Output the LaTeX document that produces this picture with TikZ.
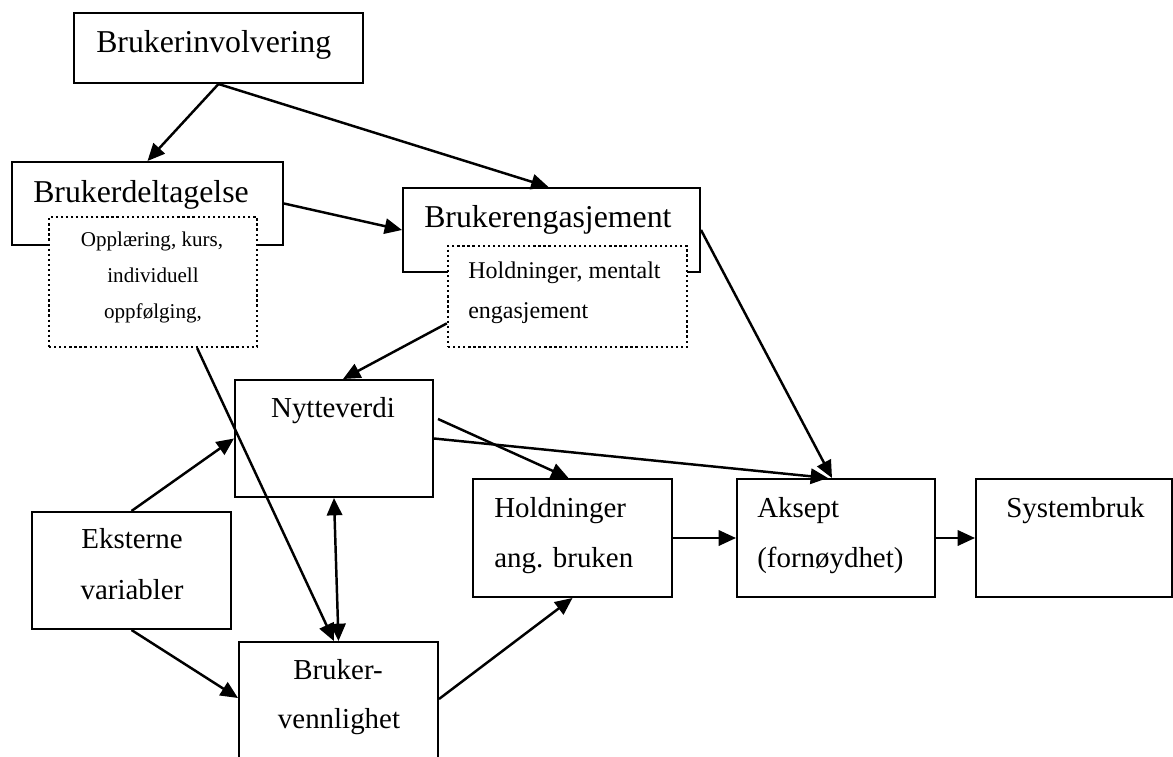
\documentclass[tikz,border=0pt]{standalone}
\usepackage{fontspec}
\setmainfont{Liberation Serif}
\usetikzlibrary{arrows.meta,calc,fit}

\begin{document}
\begin{tikzpicture}[x=0.75pt,y=-0.75pt,
  box/.style={draw, line width=1.5pt, inner sep=0pt},
  subbox/.style={draw, fill=white, line width=1.7pt, dash pattern=on 1.7pt off 2.1pt, inner sep=0pt},
  tip/.tip={Triangle[length=13pt,width=11.5pt]},
  arr/.style={line width=1.85pt, -tip},
  dbl/.style={line width=1.85pt, tip-tip},
  big/.style={inner sep=0pt, font=\fontsize{23.85}{28}\selectfont},
  mid/.style={inner sep=0pt, font=\fontsize{21.7}{26}\selectfont},
  small/.style={inner sep=0pt, font=\fontsize{15.8}{19}\selectfont},
  note/.style={inner sep=0pt, font=\fontsize{18}{22}\selectfont},
]
\useasboundingbox (0,0) rectangle (1173,756);

% main boxes
\node[box, fit={(74,13) (363,83)}]    (inv)   {};
\node[box, fit={(12,162) (283,245)}]  (del)   {};
\node[box, fit={(403,188) (700,272)}] (eng)   {};
\node[box, fit={(235,380) (433,497)}] (nytte) {};
\node[box, fit={(32,512) (231,629)}]  (ekst)  {};
\node[box, fit={(239,642) (438,760)}] (venn)  {};
\node[box, fit={(473,479) (672,597)}] (hold)  {};
\node[box, fit={(737,479) (935,597)}] (aks)   {};
\node[box, fit={(976,479) (1172,597)}] (sys)  {};

% dotted sub-boxes laid over the lower edge of their parent boxes
\node[subbox, fit={(49,217) (257,347)}]  (delsub) {};
\node[subbox, fit={(448,246) (687,347)}] (engsub) {};

% labels
\node[big, anchor=base west] (invt) at (96,53) {Brukerinvolvering};
\node[big, anchor=base west] (delt) at (33,202) {Brukerdeltagelse};
\node[big, anchor=base west] (engt) at (424,227) {Brukerengasjement};

\node[small, anchor=base] (delsub1) at (152,246) {Opplæring, kurs,};
\node[small, anchor=base] (delsub2) at (153,282) {individuell};
\node[small, anchor=base] (delsub3) at (153,318) {oppfølging,};

\node[note, anchor=base west] (engsub1) at (468,278) {Holdninger, mentalt};
\node[note, anchor=base west] (engsub2) at (468,318) {engasjement};

\node[mid, anchor=base] (nyttet) at (333,417) {Nytteverdi};
\node[mid, anchor=base] (ekst1) at (132,548) {Eksterne};
\node[mid, anchor=base] (ekst2) at (132,599) {variabler};
\node[mid, anchor=base] (venn1) at (338,679) {Bruker-};
\node[mid, anchor=base] (venn2) at (339,728) {vennlighet};
\node[mid, anchor=base west] (hold1) at (494,517) {Holdninger};
\node[mid, anchor=base west] (hold2) at (494,567) {ang. bruken};
\node[mid, anchor=base west] (aks1) at (757,517) {Aksept};
\node[mid, anchor=base west] (aks2) at (757,567) {(fornøydhet)};
\node[mid, anchor=base west] (syst) at (1006,517) {Systembruk};

% connectors
\draw[arr] (inv.south) -- (del.north);
\draw[arr] (inv.south) -- ($(eng.north west)!0.49!(eng.north east)$);
\draw[arr] (del.east) -- (eng.west);
\draw[arr] (eng.east) -- ($(aks.north west)!0.48!(aks.north east)$);
\draw[arr] ($(engsub.north west)!0.76!(engsub.south west)$) -- ($(nytte.north west)!0.545!(nytte.north east)$);
\draw[arr] ($(delsub.south west)!0.71!(delsub.south east)$) -- ($(venn.north west)!0.477!(venn.north east)$);
\draw[dbl] (nytte.south) -- (venn.north);
\draw[arr] (ekst.north) -- (nytte.west);
\draw[arr] (ekst.south) -- ($(venn.north west)+(0,57)$);
\draw[arr] ($(nytte.north east)+(4,40)$) -- ($(hold.north west)!0.48!(hold.north east)$);
\draw[arr] (nytte.east) -- ($(aks.north west)!0.46!(aks.north east)$);
\draw[arr] ($(venn.north east)+(0,58)$) -- (hold.south);
\draw[arr] (hold.east) -- (aks.west);
\draw[arr] (aks.east) -- (sys.west);
\end{tikzpicture}
\end{document}
